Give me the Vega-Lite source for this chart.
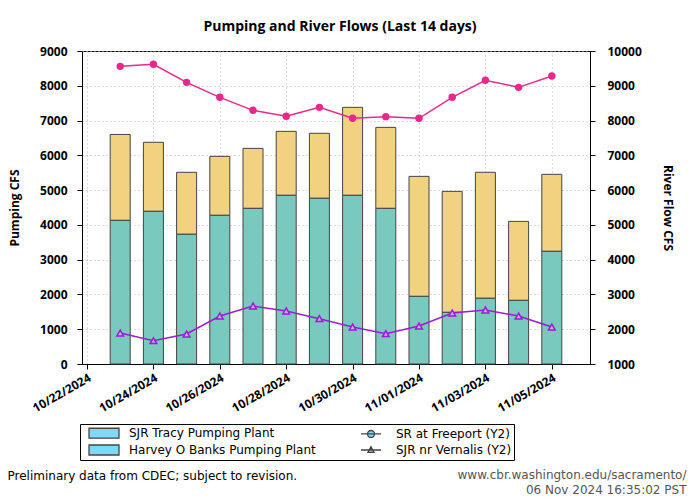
{
  "$schema": "https://vega.github.io/schema/vega-lite/v6.json",
  "width": 508,
  "height": 313,
  "autosize": {"type": "none"},
  "padding": {"left": 82, "top": 51, "right": 110, "bottom": 136},
  "background": "white",
  "title": {"text": "Pumping and River Flows (Last 14 days)", "font": "Open Sans", "fontSize": 14, "fontWeight": "bold", "color": "black", "anchor": "middle", "frame": "group", "baseline": "alphabetic", "offset": 0, "dx": 4},
  "config": {
    "view": {"stroke": "black", "strokeWidth": 1},
    "axis": {"labelFont": "Open Sans", "labelFontSize": 12, "labelFontWeight": "bold", "labelColor": "black", "titleFont": "Open Sans", "titleFontSize": 12, "titleFontWeight": "bold", "titleColor": "black", "domainColor": "black", "tickColor": "black", "tickSize": 5, "gridColor": "#bbbbbb", "gridDash": [1, 3], "labelOverlap": false, "labelFlush": false}
  },
  "data": {"values": [
    {"date": "2024-10-23", "Harvey O Banks Pumping Plant": 4130, "SJR Tracy Pumping Plant": 2470, "SR at Freeport (Y2)": 9559, "SJR nr Vernalis (Y2)": 1891},
    {"date": "2024-10-24", "Harvey O Banks Pumping Plant": 4390, "SJR Tracy Pumping Plant": 1985, "SR at Freeport (Y2)": 9617, "SJR nr Vernalis (Y2)": 1671},
    {"date": "2024-10-25", "Harvey O Banks Pumping Plant": 3730, "SJR Tracy Pumping Plant": 1782, "SR at Freeport (Y2)": 9099, "SJR nr Vernalis (Y2)": 1863},
    {"date": "2024-10-26", "Harvey O Banks Pumping Plant": 4275, "SJR Tracy Pumping Plant": 1696, "SR at Freeport (Y2)": 8668, "SJR nr Vernalis (Y2)": 2380},
    {"date": "2024-10-27", "Harvey O Banks Pumping Plant": 4475, "SJR Tracy Pumping Plant": 1725, "SR at Freeport (Y2)": 8294, "SJR nr Vernalis (Y2)": 2668},
    {"date": "2024-10-28", "Harvey O Banks Pumping Plant": 4850, "SJR Tracy Pumping Plant": 1840, "SR at Freeport (Y2)": 8122, "SJR nr Vernalis (Y2)": 2524},
    {"date": "2024-10-29", "Harvey O Banks Pumping Plant": 4765, "SJR Tracy Pumping Plant": 1869, "SR at Freeport (Y2)": 8380, "SJR nr Vernalis (Y2)": 2304},
    {"date": "2024-10-30", "Harvey O Banks Pumping Plant": 4850, "SJR Tracy Pumping Plant": 2530, "SR at Freeport (Y2)": 8064, "SJR nr Vernalis (Y2)": 2064},
    {"date": "2024-10-31", "Harvey O Banks Pumping Plant": 4475, "SJR Tracy Pumping Plant": 2329, "SR at Freeport (Y2)": 8112, "SJR nr Vernalis (Y2)": 1872},
    {"date": "2024-11-01", "Harvey O Banks Pumping Plant": 1945, "SJR Tracy Pumping Plant": 3450, "SR at Freeport (Y2)": 8064, "SJR nr Vernalis (Y2)": 2093},
    {"date": "2024-11-02", "Harvey O Banks Pumping Plant": 1485, "SJR Tracy Pumping Plant": 3479, "SR at Freeport (Y2)": 8668, "SJR nr Vernalis (Y2)": 2466},
    {"date": "2024-11-03", "Harvey O Banks Pumping Plant": 1890, "SJR Tracy Pumping Plant": 3623, "SR at Freeport (Y2)": 9157, "SJR nr Vernalis (Y2)": 2553},
    {"date": "2024-11-04", "Harvey O Banks Pumping Plant": 1830, "SJR Tracy Pumping Plant": 2271, "SR at Freeport (Y2)": 8955, "SJR nr Vernalis (Y2)": 2380},
    {"date": "2024-11-05", "Harvey O Banks Pumping Plant": 3240, "SJR Tracy Pumping Plant": 2214, "SR at Freeport (Y2)": 9281, "SJR nr Vernalis (Y2)": 2064}
  ]},
  "layer": [
    {
      "transform": [{"fold": ["SJR Tracy Pumping Plant", "Harvey O Banks Pumping Plant"], "as": ["series", "value"]}],
      "mark": {"type": "bar", "size": 20, "stroke": "#444444", "strokeWidth": 1},
      "encoding": {
        "x": {"field": "date", "type": "temporal",
          "scale": {"type": "utc", "domain": [{"year": 2024, "month": 10, "date": 22, "utc": true}, {"year": 2024, "month": 11, "date": 6, "utc": true}]},
          "axis": {"orient": "bottom", "values": [
            {"year": 2024, "month": 10, "date": 22, "utc": true},
            {"year": 2024, "month": 10, "date": 24, "utc": true},
            {"year": 2024, "month": 10, "date": 26, "utc": true},
            {"year": 2024, "month": 10, "date": 28, "utc": true},
            {"year": 2024, "month": 10, "date": 30, "utc": true},
            {"year": 2024, "month": 11, "date": 1, "utc": true},
            {"year": 2024, "month": 11, "date": 3, "utc": true},
            {"year": 2024, "month": 11, "date": 5, "utc": true}],
            "labelExpr": "utcFormat(datum.value, '%m/%d/%Y')", "labelAngle": -30, "labelAlign": "right", "labelBaseline": "top", "labelPadding": 3, "grid": true,
            "title": "Preliminary data from CDEC; subject to revision.", "titleX": -75, "titleY": 111, "titleAlign": "left", "titleBaseline": "middle", "titleAngle": 0, "titleFont": "DejaVu Sans", "titleFontWeight": "normal", "titleFontSize": 12}},
        "y": {"field": "value", "type": "quantitative", "stack": "zero",
          "scale": {"domain": [0, 9000], "nice": false},
          "axis": {"orient": "left", "values": [0, 1000, 2000, 3000, 4000, 5000, 6000, 7000, 8000, 9000], "format": "d", "grid": true, "labelPadding": 10,
            "title": "Pumping CFS", "titleX": -68, "titleY": 156.5, "titleAngle": -90, "titleAlign": "center", "titleBaseline": "middle"}},
        "order": {"field": "series", "type": "nominal", "sort": "ascending"},
        "color": {"field": "series", "type": "nominal",
          "scale": {"domain": ["SJR Tracy Pumping Plant", "Harvey O Banks Pumping Plant", "SR at Freeport (Y2)", "SJR nr Vernalis (Y2)"], "range": ["#F1D281", "#7AC9BF", "#E8288A", "#9A1CD7"]},
          "legend": null}
      }
    },
    {
      "transform": [{"fold": ["SR at Freeport (Y2)", "SJR nr Vernalis (Y2)"], "as": ["series", "value"]}],
      "encoding": {
        "x": {"field": "date", "type": "temporal",
          "scale": {"type": "utc", "domain": [{"year": 2024, "month": 10, "date": 22, "utc": true}, {"year": 2024, "month": 11, "date": 6, "utc": true}]},
          "axis": {"orient": "bottom", "domain": false, "ticks": false, "labels": false, "grid": false,
            "title": ["www.cbr.washington.edu/sacramento/", "06 Nov 2024 16:35:02 PST"], "titleX": 604, "titleY": 105, "titleAlign": "right", "titleBaseline": "top", "titleAngle": 0, "titleLineHeight": 15, "titleFont": "DejaVu Sans", "titleFontWeight": "normal", "titleFontSize": 12, "titleColor": "#555555"}},
        "y": {"field": "value", "type": "quantitative",
          "scale": {"domain": [1000, 10000], "nice": false},
          "axis": {"orient": "right", "values": [1000, 2000, 3000, 4000, 5000, 6000, 7000, 8000, 9000, 10000], "format": "d", "grid": false, "labelPadding": 12,
            "title": "River Flow CFS", "titleX": 77, "titleY": 156.5, "titleAngle": 90, "titleAlign": "center", "titleBaseline": "middle"}}
      },
      "layer": [
        {"mark": {"type": "line", "strokeWidth": 1.5},
         "encoding": {"color": {"field": "series", "type": "nominal",
           "scale": {"domain": ["SJR Tracy Pumping Plant", "Harvey O Banks Pumping Plant", "SR at Freeport (Y2)", "SJR nr Vernalis (Y2)"], "range": ["#F1D281", "#7AC9BF", "#E8288A", "#9A1CD7"]}, "legend": null}}},
        {"transform": [{"filter": "datum.series == 'SR at Freeport (Y2)'"}],
         "mark": {"type": "point", "shape": "circle", "filled": true, "size": 55, "color": "#E8288A", "opacity": 1}},
        {"transform": [{"filter": "datum.series == 'SJR nr Vernalis (Y2)'"}],
         "mark": {"type": "point", "shape": "triangle-up", "filled": true, "size": 45, "fill": "#D9A0F0", "stroke": "#9A1CD7", "strokeWidth": 1.5, "opacity": 1}}
      ]
    },
    {
      "transform": [{"fold": ["SR at Freeport (Y2)", "SJR nr Vernalis (Y2)"], "as": ["series", "value"]}],
      "mark": {"type": "point", "filled": true, "strokeWidth": 1.3, "opacity": 0},
      "encoding": {
        "x": {"field": "date", "type": "temporal",
          "scale": {"type": "utc", "domain": [{"year": 2024, "month": 10, "date": 22, "utc": true}, {"year": 2024, "month": 11, "date": 6, "utc": true}]}, "axis": null},
        "y": {"field": "value", "type": "quantitative", "scale": {"domain": [1000, 10000], "nice": false}, "axis": null},
        "color": {"field": "series", "type": "nominal",
          "scale": {"domain": ["SJR Tracy Pumping Plant", "Harvey O Banks Pumping Plant", "SR at Freeport (Y2)", "SJR nr Vernalis (Y2)"], "range": ["#F1D281", "#7AC9BF", "#E8288A", "#9A1CD7"]}, "legend": null},
        "shape": {"field": "series", "type": "nominal",
          "scale": {"domain": ["SJR Tracy Pumping Plant", "Harvey O Banks Pumping Plant", "SR at Freeport (Y2)", "SJR nr Vernalis (Y2)"], "range": ["M-2.5,-0.83H2.5V0.83H-2.5Z", "M-2.5,-0.83H2.5V0.83H-2.5Z", "M-1.67,0H1.67M0.58,0A0.58,0.58,0,1,1,-0.58,0A0.58,0.58,0,1,1,0.58,0Z", "M-1.67,0H1.67M0,-0.55L0.5,0.38L-0.5,0.38Z"]},
          "legend": {"orient": "none", "legendX": -2, "legendY": 373, "columns": 2, "title": null, "strokeColor": "black", "padding": 2, "symbolSize": 144, "symbolOffset": 15, "labelOffset": 18, "columnPadding": 33, "rowPadding": 1, "labelFont": "DejaVu Sans", "labelFontSize": 12, "labelColor": "black", "labelLimit": 0, "symbolOpacity": 1,
            "symbolFillColor": "#80D8F8", "symbolStrokeColor": "#444444", "symbolStrokeWidth": 1.3}}
      }
    }
  ],
  "resolve": {"scale": {"y": "independent", "color": "independent"}, "axis": {"x": "independent"}}
}
